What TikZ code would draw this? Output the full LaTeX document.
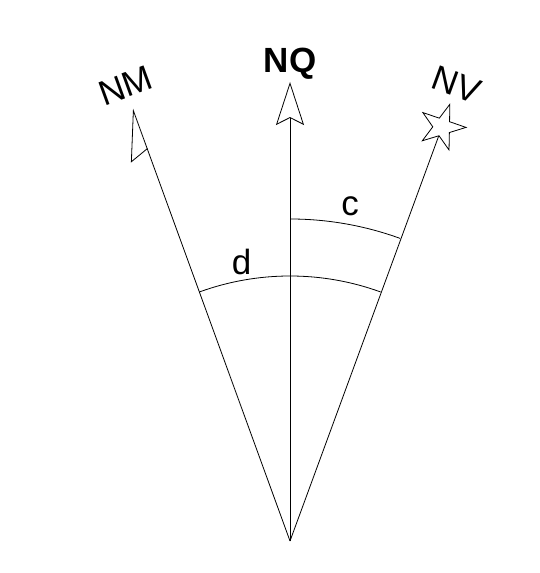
\documentclass[tikz,border=0pt]{standalone}
\usepackage{fontspec}
\setmainfont{Liberation Sans}
\usetikzlibrary{arrows.meta,shapes.geometric,calc}
\begin{document}
\begin{tikzpicture}[x=1bp, y=1bp, line width=0.8bp,
        lbl/.style={font=\fontsize{35bp}{40bp}\selectfont, inner sep=0pt}]
        \useasboundingbox (0,0) rectangle (540,573);
        \coordinate (O) at (290,32);
        \coordinate (M) at ($(O)+(110:460)$);
        \coordinate (Q) at ($(O)+(90:459)$);
        \node[star, star points=5, star point ratio=2.6, minimum size=48bp,
              inner sep=0pt, rotate=-19, draw] (V) at (442,446) {};
        
        \draw[-{Stealth[open, harpoon, length=49bp, width=40bp, inset=7bp]}] (O) -- (M);
        \draw[-{Stealth[open, length=43bp, width=28bp, inset=7bp]}] (O) -- (Q);
        \draw (O) -- (V);
        
        \draw ($(O)+(110:265)$) arc[start angle=110, end angle=70, radius=265];
        \draw ($(O)+(90:322)$) arc[start angle=90, end angle=70, radius=322];
        
        \node[lbl, rotate=20] (nm) at (125.5,487) {NM};
        \node[lbl, font=\fontsize{35bp}{40bp}\selectfont\bfseries] (nq) at (290,509.5) {NQ};
        \node[lbl, rotate=-20] (nv) at (456.5,488) {NV};
        \node[lbl] (d) at (241.7,311.3) {d};
        \node[lbl] (c) at (350,366.3) {c};
    \end{tikzpicture}
\end{document}
